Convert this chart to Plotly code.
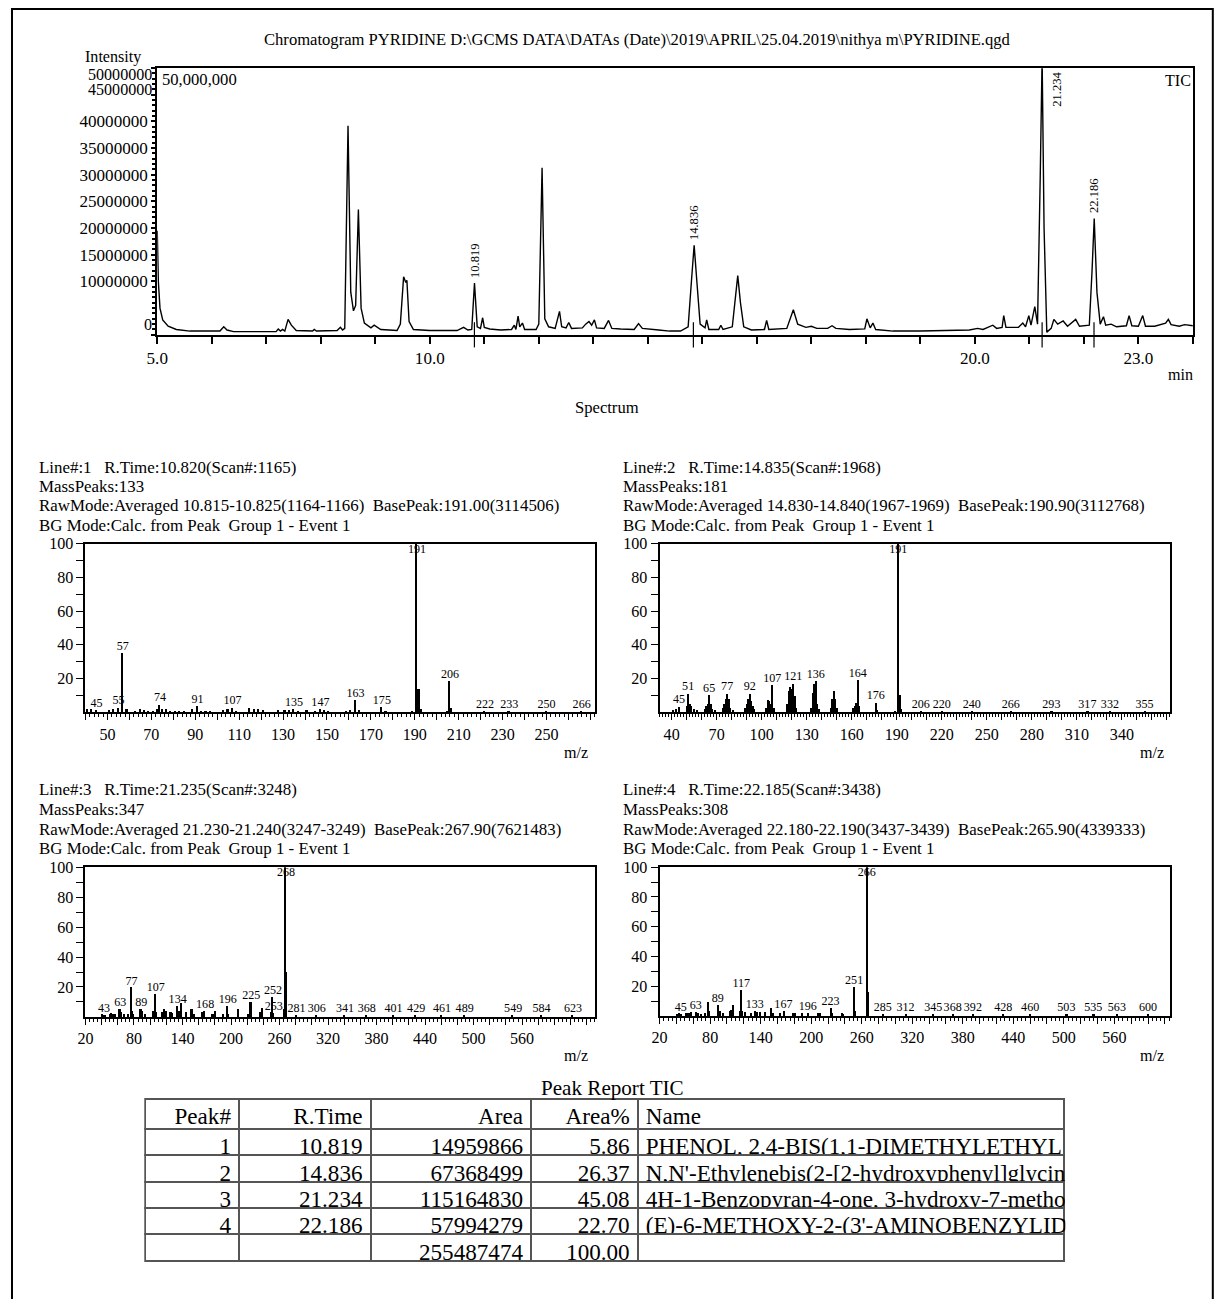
import plotly.graph_objects as go

W, H = 1218, 1299
FONT = "Liberation Serif"
# the photographed page carries a small frame around the figure; these constants map
# reference-page pixels onto figure pixels
SX, OX = 0.9942, 8.27
SY, OY = 0.9951, 7.78

# ---------------- Chromatogram (TIC) data ----------------
tic_time = [5.00, 5.02, 5.05, 5.10, 5.20, 5.35, 5.60, 6.15, 6.22, 6.28, 6.40, 7.00, 7.18, 7.22, 7.26,
            7.30, 7.34, 7.40, 7.46, 7.55, 7.85, 7.88, 7.92, 8.30, 8.36, 8.40, 8.44, 8.50, 8.55, 8.60,
            8.64, 8.69, 8.74, 8.80, 8.92, 8.98, 9.10, 9.40, 9.46, 9.52, 9.56, 9.58, 9.62, 9.70, 10.00,
            10.50, 10.62, 10.70, 10.77, 10.82, 10.87, 10.93, 10.97, 11.00, 11.10, 11.30, 11.50, 11.55,
            11.58, 11.62, 11.65, 11.70, 11.74, 11.95, 12.00, 12.06, 12.11, 12.18, 12.30, 12.38, 12.42,
            12.50, 12.55, 12.60, 12.80, 12.86, 12.92, 12.97, 13.02, 13.06, 13.20, 13.28, 13.34, 13.50,
            13.75, 13.83, 13.90, 14.20, 14.40, 14.60, 14.74, 14.80, 14.85, 14.90, 14.96, 15.05, 15.08,
            15.12, 15.30, 15.34, 15.38, 15.55, 15.60, 15.65, 15.70, 15.76, 15.90, 16.14, 16.18, 16.22,
            16.55, 16.67, 16.75, 16.90, 17.00, 17.10, 17.30, 17.38, 17.45, 17.70, 17.98, 18.02, 18.08,
            18.13, 18.18, 18.50, 19.00, 19.50, 19.90, 20.05, 20.15, 20.33, 20.40, 20.50, 20.53, 20.57,
            20.80, 20.88, 20.93, 20.99, 21.03, 21.10, 21.15, 21.20, 21.234, 21.27, 21.32, 21.40, 21.45,
            21.52, 21.62, 21.70, 21.85, 21.92, 22.10, 22.15, 22.19, 22.24, 22.30, 22.36, 22.40, 22.50,
            22.60, 22.78, 22.83, 22.88, 23.00, 23.08, 23.13, 23.30, 23.45, 23.50, 23.55, 23.60, 23.75,
            23.85, 24.00]
tic_intensity = [19.5e6, 10.0e6, 5.0e6, 2.8e6, 1.6e6, 1.0e6, 0.7e6, 0.7e6, 1.5e6, 0.9e6, 0.6e6, 0.6e6,
                 0.6e6, 1.1e6, 0.7e6, 1.0e6, 0.7e6, 2.9e6, 1.8e6, 0.8e6, 0.7e6, 1.0e6, 0.7e6, 0.8e6,
                 1.4e6, 0.9e6, 1.2e6, 39.2e6, 8.0e6, 4.5e6, 5.5e6, 23.5e6, 5.0e6, 2.2e6, 1.3e6, 1.8e6,
                 1.0e6, 0.8e6, 2.0e6, 10.9e6, 9.8e6, 10.2e6, 2.5e6, 1.0e6, 0.8e6, 0.8e6, 1.4e6, 0.9e6,
                 1.0e6, 9.7e6, 1.5e6, 1.2e6, 3.2e6, 1.4e6, 1.1e6, 0.9e6, 1.0e6, 1.8e6, 1.0e6, 3.5e6,
                 1.5e6, 2.2e6, 1.0e6, 1.0e6, 2.0e6, 31.3e6, 3.0e6, 1.5e6, 1.2e6, 4.4e6, 1.5e6, 1.3e6,
                 2.3e6, 1.2e6, 1.3e6, 2.0e6, 2.5e6, 1.8e6, 2.8e6, 1.3e6, 1.2e6, 2.7e6, 1.2e6, 1.1e6,
                 1.0e6, 2.1e6, 1.2e6, 0.9e6, 0.7e6, 0.7e6, 1.5e6, 10.0e6, 16.8e6, 10.0e6, 2.0e6, 1.3e6,
                 2.8e6, 1.0e6, 1.0e6, 1.8e6, 1.0e6, 1.5e6, 6.0e6, 11.1e6, 6.0e6, 1.5e6, 0.9e6, 1.0e6,
                 2.7e6, 1.0e6, 1.2e6, 4.7e6, 2.0e6, 1.4e6, 1.6e6, 1.2e6, 1.2e6, 1.7e6, 1.2e6, 1.0e6,
                 1.1e6, 3.0e6, 1.3e6, 2.2e6, 1.0e6, 0.7e6, 0.7e6, 0.8e6, 0.9e6, 1.2e6, 1.0e6, 1.8e6,
                 1.2e6, 1.4e6, 3.6e6, 1.4e6, 1.4e6, 2.2e6, 1.5e6, 3.6e6, 1.8e6, 5.3e6, 2.0e6, 30.0e6,
                 52.0e6, 20.0e6, 0.5e6, 1.2e6, 2.9e6, 2.0e6, 2.6e6, 1.6e6, 2.9e6, 1.6e6, 1.8e6, 12.0e6,
                 21.8e6, 8.0e6, 2.0e6, 3.4e6, 1.8e6, 2.0e6, 1.5e6, 1.7e6, 3.6e6, 1.7e6, 1.6e6, 3.6e6,
                 1.6e6, 1.6e6, 2.0e6, 2.2e6, 2.9e6, 1.9e6, 1.6e6, 1.9e6, 1.7e6]

chrom_ytick_vals = [0, 10e6, 15e6, 20e6, 25e6, 30e6, 35e6, 40e6, 45e6, 50e6]
chrom_ytick_text = ["0", "10000000", "15000000", "20000000", "25000000", "30000000",
                    "35000000", "40000000", "45000000", "50000000"]
chrom_xtick_vals = list(range(5, 25))
chrom_xtick_labels = {5: "5.0", 10: "10.0", 20: "20.0", 23: "23.0"}

# ---------------- Peak report table ----------------
peak_no = ["1", "2", "3", "4", ""]
peak_rt = [10.819, 14.836, 21.234, 22.186]
peak_height = [9.7e6, 16.8e6, 50.0e6, 21.8e6]     # apex heights read from the TIC
peak_area = [14959866, 67368499, 115164830, 57994279]
peak_total_area = 255487474
peak_area_pct = ["5.86", "26.37", "45.08", "22.70", "100.00"]
peak_names = ["PHENOL, 2,4-BIS(1,1-DIMETHYLETHYL",
              "N,N'-Ethylenebis(2-[2-hydroxyphenyl]glycin",
              "4H-1-Benzopyran-4-one, 3-hydroxy-7-metho",
              "(E)-6-METHOXY-2-(3'-AMINOBENZYLID",
              ""]

# ---------------- Mass spectra ----------------
mz1 = [41, 43, 45, 51, 53, 55, 57, 59, 63, 65, 67, 69, 71, 73, 74, 75, 77, 79, 81, 83, 85, 89, 91, 93,
       95, 97, 103, 105, 107, 109, 115, 117, 119, 121, 128, 131, 133, 135, 137, 141, 145, 147, 149,
       151, 159, 161, 163, 165, 175, 177, 189, 191, 192, 193, 205, 206, 207, 222, 233, 250, 266]
rel1 = [2, 2, 1.5, 1.5, 2, 3, 35.3, 2, 1, 2, 1.5, 1, 1, 2.5, 4.9, 2, 2.5, 1, 1, 1, 1, 2.5, 3.9, 1,
        1, 1, 1.5, 2, 3, 1, 3, 2, 2, 1.5, 1.5, 1.5, 1.5, 2, 1, 1.5, 1, 2, 1.5,
        1, 1, 1.5, 7.3, 1.5, 3.3, 1, 1, 100, 14.1, 2, 1, 18.6, 3, 1, 1, 1, 1]
lab1 = [45, 55, 57, 74, 91, 107, 135, 147, 163, 175, 191, 206, 222, 233, 250, 266]

mz2 = [41, 43, 45, 50, 51, 52, 53, 55, 57, 62, 63, 64, 65, 66, 67, 69, 74, 75, 76, 77, 78, 79, 81, 89,
       90, 91, 92, 93, 94, 95, 103, 104, 105, 106, 107, 108, 117, 118, 119, 120, 121, 122, 123, 133,
       134, 135, 136, 137, 138, 146, 147, 148, 149, 150, 161, 162, 163, 164, 165, 176, 177, 189, 191,
       192, 193, 206, 220, 240, 266, 293, 317, 332, 355]
rel2 = [1.5, 2, 3.5, 4, 11.2, 5, 4, 2, 1.5, 2, 4, 5, 10.4, 5, 2, 1.5, 3, 5, 8, 11.2, 8, 3, 1.5, 3,
        5, 8, 11.2, 7, 4, 2, 3, 7.5, 7, 5, 16.3, 3, 5, 13, 15, 14, 17.1, 10, 3, 3,
        12, 17, 18.6, 5, 2, 3, 8, 12.7, 8, 3, 3, 4, 6, 19.4, 4, 5.9, 1.5, 1, 100,
        10.8, 2, 1, 1, 1, 1, 1, 1, 1, 1]
lab2 = [45, 51, 65, 77, 92, 107, 121, 136, 164, 176, 191, 206, 220, 240, 266, 293, 317, 332, 355]

mz3 = [41, 43, 45, 51, 53, 55, 57, 63, 65, 69, 74, 77, 78, 79, 89, 91, 94, 95, 105, 107, 108, 115, 118,
       121, 126, 128, 134, 137, 139, 145, 152, 155, 165, 168, 178, 181, 191, 196, 197, 209, 210, 222,
       225, 237, 239, 250, 252, 253, 267, 268, 269, 281, 306, 341, 368, 401, 429, 461, 489, 549, 584, 623]
rel3 = [2, 1, 1.5, 2, 2.5, 2, 2, 5, 3, 2, 2, 19.6, 4, 2, 5.4, 4, 2, 2, 4, 15.5, 3, 3, 5,
        4, 3, 2.5, 7.2, 4, 9, 3, 5, 2, 3, 4, 2, 4, 2, 7.2, 2, 3, 5, 2,
        9.9, 3, 6, 3, 13, 2.5, 5, 100, 29.7, 1, 1, 1, 1, 1, 1, 1, 1, 1, 1, 1]
lab3 = [43, 63, 77, 89, 107, 134, 168, 196, 225, 252, 253, 268, 281, 306, 341, 368, 401, 429, 461,
        489, 549, 584, 623]

mz4 = [41, 43, 45, 51, 53, 55, 57, 63, 65, 69, 74, 77, 78, 89, 91, 95, 103, 105, 107, 115, 117, 118,
       121, 128, 133, 135, 139, 145, 152, 155, 163, 167, 178, 181, 189, 196, 208, 210, 223, 225, 236,
       237, 251, 252, 266, 267, 285, 312, 345, 368, 392, 428, 460, 503, 535, 563, 600]
rel4 = [1.5, 2, 1.5, 2, 2, 2, 2.5, 2.7, 2, 1.5, 2, 9.4, 3, 7.6, 3, 2, 3, 4, 7, 3, 17.3, 3,
        2.5, 2, 3, 2.5, 2.5, 2.5, 5, 2, 2, 3, 2, 2, 2, 2, 2, 2, 5.4, 2, 2,
        1.5, 19.6, 3, 100, 16, 1, 1, 1, 1, 1, 1, 1, 1, 1, 1, 1]
lab4 = [45, 63, 89, 117, 133, 167, 196, 223, 251, 266, 285, 312, 345, 368, 392, 428, 460, 503, 535,
        563, 600]

spec_headers = [
    ["Line#:1   R.Time:10.820(Scan#:1165)", "MassPeaks:133",
     "RawMode:Averaged 10.815-10.825(1164-1166)  BasePeak:191.00(3114506)",
     "BG Mode:Calc. from Peak  Group 1 - Event 1"],
    ["Line#:2   R.Time:14.835(Scan#:1968)", "MassPeaks:181",
     "RawMode:Averaged 14.830-14.840(1967-1969)  BasePeak:190.90(3112768)",
     "BG Mode:Calc. from Peak  Group 1 - Event 1"],
    ["Line#:3   R.Time:21.235(Scan#:3248)", "MassPeaks:347",
     "RawMode:Averaged 21.230-21.240(3247-3249)  BasePeak:267.90(7621483)",
     "BG Mode:Calc. from Peak  Group 1 - Event 1"],
    ["Line#:4   R.Time:22.185(Scan#:3438)", "MassPeaks:308",
     "RawMode:Averaged 22.180-22.190(3437-3439)  BasePeak:265.90(4339333)",
     "BG Mode:Calc. from Peak  Group 1 - Event 1"],
]
rel_ytick_vals = [10, 20, 30, 40, 50, 60, 70, 80, 90, 100]
rel_ytick_text = ["", "20", "", "40", "", "60", "", "80", "", "100"]


# ---------------- helpers (reference page pixels -> paper) ----------------
def px(x):
    return ((x - OX) / SX) / W


def py(y):
    return 1 - ((y - OY) / SY) / H


def fs(s):
    return round(s / SX, 2)


def nb(s):
    return s.replace(" ", "\u00a0")


fig = go.Figure()
annotations = []

# ---- TIC trace ----
fig.add_trace(go.Scatter(x=tic_time, y=tic_intensity, mode="lines",
                         line=dict(color="black", width=1.4), xaxis="x", yaxis="y",
                         hoverinfo="skip", showlegend=False))
# peak marks on the time axis
fig.add_trace(go.Scatter(x=peak_rt, y=[0] * len(peak_rt), mode="markers",
                         marker=dict(symbol="line-ns", size=18, line=dict(color="black", width=1.2)),
                         xaxis="x", yaxis="y", cliponaxis=False, hoverinfo="skip", showlegend=False))
for rt, h in zip(peak_rt, peak_height):
    if h >= 50e6:
        annotations.append(dict(x=rt, y=h, xref="x", yref="y", text=f"{rt:.3f}", textangle=-90,
                                yanchor="top", xanchor="center", xshift=15, yshift=-2,
                                font=dict(size=fs(12.5))))
    else:
        annotations.append(dict(x=rt, y=h, xref="x", yref="y", text=f"{rt:.3f}", textangle=-90,
                                yanchor="bottom", xanchor="center", yshift=3,
                                font=dict(size=fs(12.5))))

# the reference prints the 0, 45000000 and 50000000 labels slightly off their ticks
moved_labels = {0: 325, 45e6: 89, 50e6: 74}
layout_axes = {}
layout_axes["xaxis"] = dict(domain=[px(155), px(1194)], range=[5.0, 24.0], anchor="y",
                            tickmode="array", tickvals=chrom_xtick_vals,
                            ticktext=[chrom_xtick_labels.get(v, "") for v in chrom_xtick_vals],
                            ticks="outside", ticklen=7, tickwidth=1.5, tickcolor="black",
                            showline=True, linecolor="black", linewidth=2, mirror=True,
                            showgrid=False, zeroline=False, tickfont=dict(size=fs(17), family=FONT))
layout_axes["yaxis"] = dict(domain=[py(335), py(68)], range=[0, 50e6], anchor="x",
                            tickmode="array", tickvals=chrom_ytick_vals,
                            ticktext=["" if v in moved_labels else t
                                      for v, t in zip(chrom_ytick_vals, chrom_ytick_text)],
                            ticks="outside", ticklen=4, tickwidth=1.5, tickcolor="black",
                            minor=dict(tickmode="linear", tick0=0, dtick=1e6, ticks="outside",
                                       ticklen=3, tickcolor="black"),
                            showline=True, linecolor="black", linewidth=2, mirror=True,
                            showgrid=False, zeroline=False, tickfont=dict(size=fs(17), family=FONT))
for v, t in zip(chrom_ytick_vals, chrom_ytick_text):
    if v in moved_labels:
        annotations.append(dict(x=px(152), y=py(moved_labels[v]), text=t, xanchor="right",
                                font=dict(size=fs(16))))

annotations += [
    dict(x=px(637), y=py(39), text="Chromatogram PYRIDINE D:\\GCMS DATA\\DATAs (Date)\\2019\\APRIL\\25.04.2019\\nithya m\\PYRIDINE.qgd",
         font=dict(size=fs(16.5))),
    dict(x=px(111), y=py(57), text="Intensity", font=dict(size=fs(16))),
    dict(x=px(158), y=py(79), text="50,000,000", xanchor="left", font=dict(size=fs(16.5))),
    dict(x=px(1194), y=py(80), text="TIC", xanchor="right", font=dict(size=fs(16))),
    dict(x=px(1196), y=py(375), text="min", xanchor="right", font=dict(size=fs(16))),
    dict(x=px(606), y=py(408), text="Spectrum", font=dict(size=fs(16.5))),
    dict(x=px(612), y=py(1089), text="Peak Report TIC", font=dict(size=fs(21))),
]

# ---- spectra ----
spectra = [
    dict(mz=mz1, rel=rel1, lab=lab1, box=(83, 594, 544, 713), xr=[40, 272],
         major=list(range(40, 271, 10)), lab_start=50, lab_step=20, lab_max=250, minor=2, hx=34,
         hy=[468, 487, 506, 526], mzlab=(589, 753)),
    dict(mz=mz2, rel=rel2, lab=lab2, box=(659, 1171, 544, 713), xr=[32, 372],
         major=list(range(40, 371, 10)), lab_start=40, lab_step=30, lab_max=340, minor=2, hx=620,
         hy=[468, 487, 506, 526], mzlab=(1167, 753)),
    dict(mz=mz3, rel=rel3, lab=lab3, box=(83, 594, 868, 1018), xr=[20, 650],
         major=list(range(20, 641, 20)), lab_start=20, lab_step=60, lab_max=560, minor=5, hx=34,
         hy=[790, 810, 830, 849], mzlab=(589, 1057)),
    dict(mz=mz4, rel=rel4, lab=lab4, box=(659, 1171, 868, 1017), xr=[20, 626],
         major=list(range(20, 621, 20)), lab_start=20, lab_step=60, lab_max=560, minor=5, hx=620,
         hy=[790, 810, 830, 849], mzlab=(1167, 1057)),
]

for i, sp in enumerate(spectra):
    n = i + 2
    xa, ya = f"x{n}", f"y{n}"
    x0, x1, y0, y1 = sp["box"]
    units_per_px = (sp["xr"][1] - sp["xr"][0]) / (x1 - x0)
    fig.add_trace(go.Bar(x=sp["mz"], y=sp["rel"], width=1.6 * units_per_px,
                         marker=dict(color="black", line=dict(width=0)),
                         xaxis=xa, yaxis=ya, hoverinfo="skip", showlegend=False))
    lookup = dict(zip(sp["mz"], sp["rel"]))
    ly = [lookup.get(m, 1) for m in sp["lab"]]
    fig.add_trace(go.Scatter(x=sp["lab"], y=ly, mode="text", text=[str(m) for m in sp["lab"]],
                             textposition=["bottom center" if v >= 90 else "top center" for v in ly],
                             textfont=dict(size=fs(12), family=FONT, color="black"),
                             xaxis=xa, yaxis=ya, cliponaxis=False, hoverinfo="skip", showlegend=False))
    ticktext = []
    for v in sp["major"]:
        show = sp["lab_start"] <= v <= sp["lab_max"] and (v - sp["lab_start"]) % sp["lab_step"] == 0
        ticktext.append(str(v) if show else "")
    layout_axes[f"xaxis{n}"] = dict(domain=[px(x0), px(x1)], range=sp["xr"], anchor=ya,
                                    tickmode="array", tickvals=sp["major"], ticktext=ticktext,
                                    ticks="outside", ticklen=6, tickwidth=1.2, tickcolor="black",
                                    minor=dict(tickmode="linear", tick0=0, dtick=sp["minor"],
                                               ticks="outside", ticklen=3, tickcolor="black"),
                                    showline=True, linecolor="black", linewidth=2, mirror=True,
                                    showgrid=False, zeroline=False, tickfont=dict(size=fs(16), family=FONT))
    layout_axes[f"yaxis{n}"] = dict(domain=[py(y1), py(y0)], range=[0, 100], anchor=xa,
                                    tickmode="array", tickvals=rel_ytick_vals, ticktext=rel_ytick_text,
                                    ticks="outside", ticklen=7, tickwidth=1.2, tickcolor="black",
                                    showline=True, linecolor="black", linewidth=2, mirror=True,
                                    showgrid=False, zeroline=False, tickfont=dict(size=fs(16), family=FONT))
    for line, yy in zip(spec_headers[i], sp["hy"]):
        annotations.append(dict(x=px(sp["hx"]), y=py(yy), text=nb(line), xanchor="left",
                                font=dict(size=fs(16.8))))
    annotations.append(dict(x=px(sp["mzlab"][0]), y=py(sp["mzlab"][1]), text="m/z",
                            xanchor="right", font=dict(size=fs(16))))

# ---- peak report table ----
col_px = [94, 132, 161, 107, 428]
fig.add_trace(go.Table(
    domain=dict(x=[px(143), px(1065)], y=[py(1265), py(1100)]),
    columnwidth=col_px,
    header=dict(values=["Peak#", "R.Time", "Area", "Area%", "Name"],
                align=["right", "right", "right", "right", "left"],
                font=dict(family=FONT, size=fs(23), color="black"),
                line=dict(color="#555555", width=2), fill=dict(color="white"), height=30),
    cells=dict(values=[peak_no,
                       [f"{v:.3f}" for v in peak_rt] + [""],
                       [str(a) for a in peak_area] + [str(peak_total_area)],
                       peak_area_pct,
                       [nb(s) for s in peak_names]],
               align=["right", "right", "right", "right", "left"],
               font=dict(family=FONT, size=fs(23), color="black"),
               line=dict(color="#555555", width=2), fill=dict(color="white"), height=26.4),
))

for a in annotations:
    a.setdefault("xref", "paper")
    a.setdefault("yref", "paper")
    a.setdefault("showarrow", False)
    a.setdefault("xanchor", "center")
    a.setdefault("yanchor", "middle")
    a.setdefault("font", {})
    a["font"].setdefault("family", FONT)
    a["font"].setdefault("color", "black")

fig.update_layout(
    width=W, height=H, margin=dict(l=0, r=0, t=0, b=0),
    paper_bgcolor="white", plot_bgcolor="white",
    font=dict(family=FONT, color="black"),
    showlegend=False, bargap=0,
    annotations=annotations,
    shapes=[dict(type="rect", xref="paper", yref="paper",
                 x0=max(px(8), 1.0 / W), x1=min(px(1214), (W - 1.0) / W),
                 y0=py(1330), y1=min(py(7), 1 - 1.0 / H),
                 line=dict(color="black", width=2), fillcolor="rgba(0,0,0,0)", layer="above")],
    **layout_axes,
)

fig.write_html("out.html", config={"displayModeBar": False},
               post_script="document.body.style.margin='0';document.body.style.overflow='hidden';")
